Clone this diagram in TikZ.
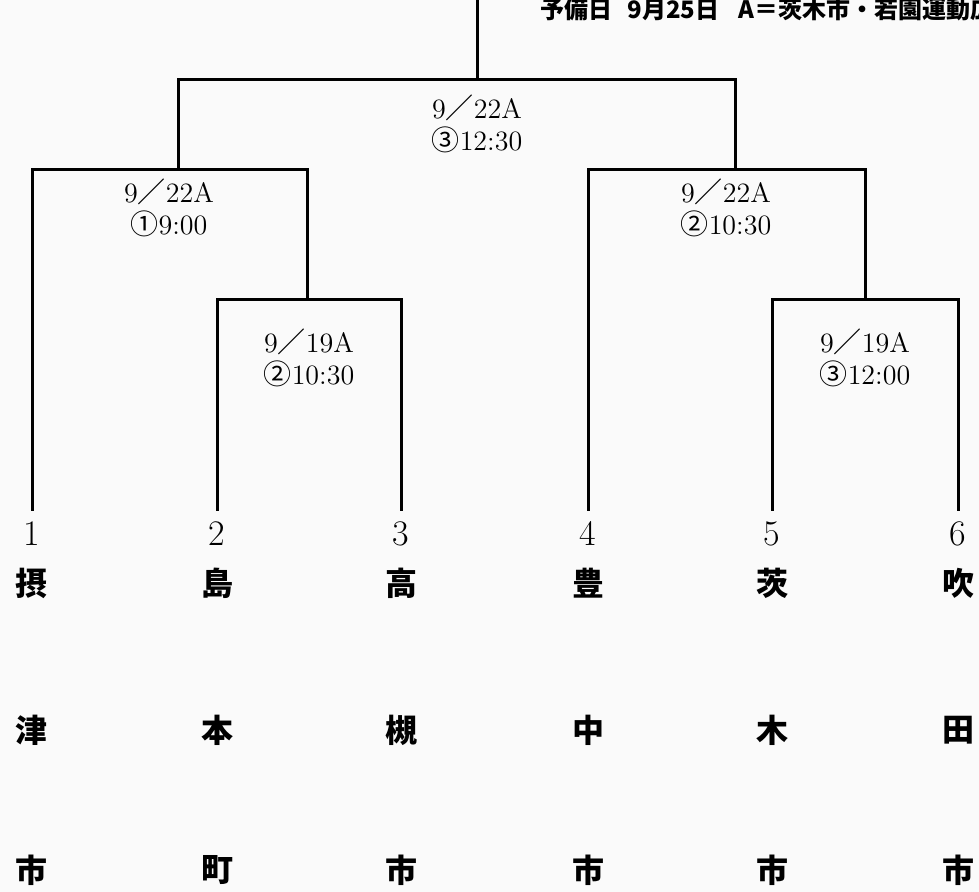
\documentclass[tikz,border=0pt]{standalone}
\usepackage{fontspec}
\newfontfamily\jpfont{Noto Sans CJK JP}
\newcommand{\zsl}{{\jpfont ／}}
\newcommand{\circnum}[1]{{\jpfont #1}}

\begin{document}
\begin{tikzpicture}[x=0.5pt,y=-0.5pt,
    bracket/.style={line width=1.5pt,black},
    seed/.style={font=\fontsize{18}{18}\selectfont,inner xsep=0pt,inner ysep=5pt,anchor=north},
    city/.style={font=\jpfont\bfseries\fontsize{16}{16}\selectfont,inner sep=0pt},
    match/.style={font=\fontsize{14}{16}\selectfont,align=center,inner sep=0pt},
    note/.style={font=\jpfont\bfseries\fontsize{12}{12}\selectfont,anchor=base west,inner sep=0pt}]

  \useasboundingbox (0,0) rectangle (979,892);
  \clip (0,0) rectangle (979,892);
  \fill[black!2] (0,0) rectangle (979,892);

  % header
  \node[note] (note1) at (540,19) {予備日};
  \node[note] (note2) at (627,19) {9月25日};
  \node[note] (note3) at (738,19) {A＝茨木市・若園運動広場};

  % seeds and teams
  \foreach \i/\x/\ca/\cb/\cc in {1/32/摂/津/市, 2/217/島/本/町, 3/401/高/槻/市,
                                 4/588/豊/中/市, 5/772/茨/木/市, 6/958/吹/田/市} {
    \node[seed] (t\i) at (\x,511) {\i};
    \node[city] (c\i-1) at (\x,583) {\ca};
    \node[city] (c\i-2) at (\x,730) {\cb};
    \node[city] (c\i-3) at (\x,870) {\cc};
  }

  % bracket
  \coordinate (m23) at (307,300);
  \coordinate (m56) at (865,300);
  \coordinate (m123) at (178,170);
  \coordinate (m456) at (735,170);
  \coordinate (fin) at (477,80);
  \coordinate (top) at (477,-5);

  \draw[bracket] (t2.north) |- (m23) -| (t3.north);
  \draw[bracket] (t5.north) |- (m56) -| (t6.north);
  \draw[bracket] (t1.north) |- (m123) -| (m23);
  \draw[bracket] (t4.north) |- (m456) -| (m56);
  \draw[bracket] (m123) |- (fin) -| (m456);
  \draw[bracket] (fin) -- (top);

  % match dates
  \node[match] (g1) at (169,208) {9\zsl22A\\\circnum{①}9:00};
  \node[match] (g2) at (309,358) {9\zsl19A\\\circnum{②}10:30};
  \node[match] (g3) at (726,208) {9\zsl22A\\\circnum{②}10:30};
  \node[match] (g4) at (865,358) {9\zsl19A\\\circnum{③}12:00};
  \node[match] (g5) at (477,124) {9\zsl22A\\\circnum{③}12:30};
\end{tikzpicture}
\end{document}
